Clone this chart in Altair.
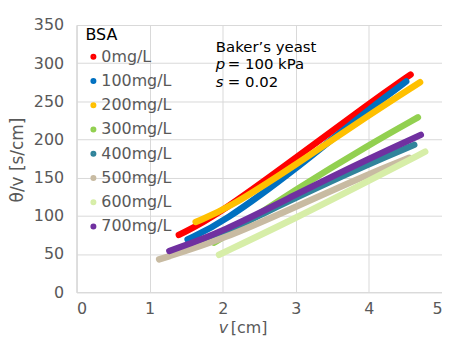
import altair as alt
import pandas as pd

labels = ["0mg/L", "100mg/L", "200mg/L", "300mg/L", "400mg/L", "500mg/L", "600mg/L", "700mg/L"]
colors = ["#FF0000", "#0070C0", "#FFC000", "#92D050", "#31849B", "#C8BBA2", "#D7EEA8", "#7030A0"]

x_0 = [1.40, 1.90, 3.0, 4.0, 4.57]
y_0 = [75, 99, 176, 247, 285]
x_100 = [1.52, 2.0, 3.0, 4.0, 4.51]
y_100 = [69, 91, 161, 240, 276]
x_200 = [1.63, 2.08, 3.0, 4.0, 4.70]
y_200 = [92, 110, 167, 232, 275]
x_300 = [1.88, 2.0, 3.0, 4.0, 4.67]
y_300 = [65, 71, 135, 193, 229]
x_400 = [1.6, 2.0, 3.0, 4.0, 4.62]
y_400 = [62, 77, 124, 168, 193]
x_500 = [1.13, 2.0, 3.0, 4.0, 4.55]
y_500 = [43, 69, 112, 155, 176]
x_600 = [1.95, 3.0, 4.0, 4.77]
y_600 = [49, 97, 146, 184]
x_700 = [1.27, 2.0, 3.0, 4.0, 4.71]
y_700 = [54, 79, 128, 175, 206]

xs = [x_0, x_100, x_200, x_300, x_400, x_500, x_600, x_700]
ys = [y_0, y_100, y_200, y_300, y_400, y_500, y_600, y_700]

rows = []
for i, (lab, xv, yv) in enumerate(zip(labels, xs, ys)):
    for a, b in zip(xv, yv):
        rows.append({"series": lab, "order": i, "v": a, "tv": b})
df = pd.DataFrame(rows)

FONT = "DejaVu Sans"
GRAY = "#595959"
GRID = "#D9D9D9"

lines = alt.Chart(df).mark_line(
    strokeWidth=6.5, strokeCap="round", strokeJoin="round", interpolate="basis"
).encode(
    x=alt.X("v:Q", scale=alt.Scale(domain=[0, 5], nice=False),
            axis=alt.Axis(values=[0, 1, 2, 3, 4, 5], title=None, grid=True, gridColor=GRID,
                          domainColor=GRID, ticks=False, labelPadding=8, labelFontSize=16,
                          labelColor=GRAY, labelFont=FONT)),
    y=alt.Y("tv:Q", scale=alt.Scale(domain=[0, 350], nice=False),
            axis=alt.Axis(values=[0, 50, 100, 150, 200, 250, 300, 350], title=None, grid=True,
                          gridColor=GRID, domainColor=GRID, ticks=False, labelPadding=13,
                          labelFontSize=16, labelColor=GRAY, labelFont=FONT)),
    color=alt.Color("series:N", scale=alt.Scale(domain=labels, range=colors),
                    sort=labels,
                    legend=alt.Legend(title="BSA", orient="none", legendX=9, legendY=2,
                                      symbolType="circle", symbolSize=8, symbolStrokeWidth=3.2,
                                      symbolOpacity=1,
                                      labelFontSize=16, labelFont=FONT, labelColor=GRAY,
                                      labelOffset=0, titleFontSize=16, titleFont=FONT,
                                      titleColor="#000000", titleFontWeight="normal",
                                      rowPadding=8.4, titlePadding=6, padding=0)),
    detail="order:O",
    order="order:Q",
)

def txt(s, x, y, italic=False, angle=0, size=15, color="#000000", align="left"):
    return alt.Chart(pd.DataFrame({"t": [s]})).mark_text(
        font=FONT, fontSize=size, fontStyle="italic" if italic else "normal",
        color=color, align=align, baseline="alphabetic", angle=angle
    ).encode(text="t:N", x=alt.value(x), y=alt.value(y))

ox, oy = 76.7, 24
texts = [
    txt("Baker\u2019s yeast", 217 - ox, 51 - oy),
    txt("p", 217 - ox, 68.5 - oy, italic=True),
    txt("= 100 kPa", 229 - ox, 68.5 - oy),
    txt("s", 217 - ox, 86 - oy, italic=True),
    txt("= 0.02", 229 - ox, 86 - oy),
    txt("v", 220 - ox, 334 - oy, italic=True, size=16, color=GRAY),
    txt("[cm]", 232 - ox, 334 - oy, size=16, color=GRAY),
    txt("\u03b8/v [s/cm]", 22.5 - ox, 160 - oy, angle=270, size=17, color=GRAY, align="center"),
]

chart = alt.layer(lines, *texts).properties(
    width=368, height=269,
    autosize=alt.AutoSizeParams(type="none"),
    padding={"left": 69, "top": 16, "right": 0, "bottom": 45},
).configure_view(stroke=None).configure(background="white")

chart.save("out.html", embed_options={"renderer": "svg", "actions": False})
